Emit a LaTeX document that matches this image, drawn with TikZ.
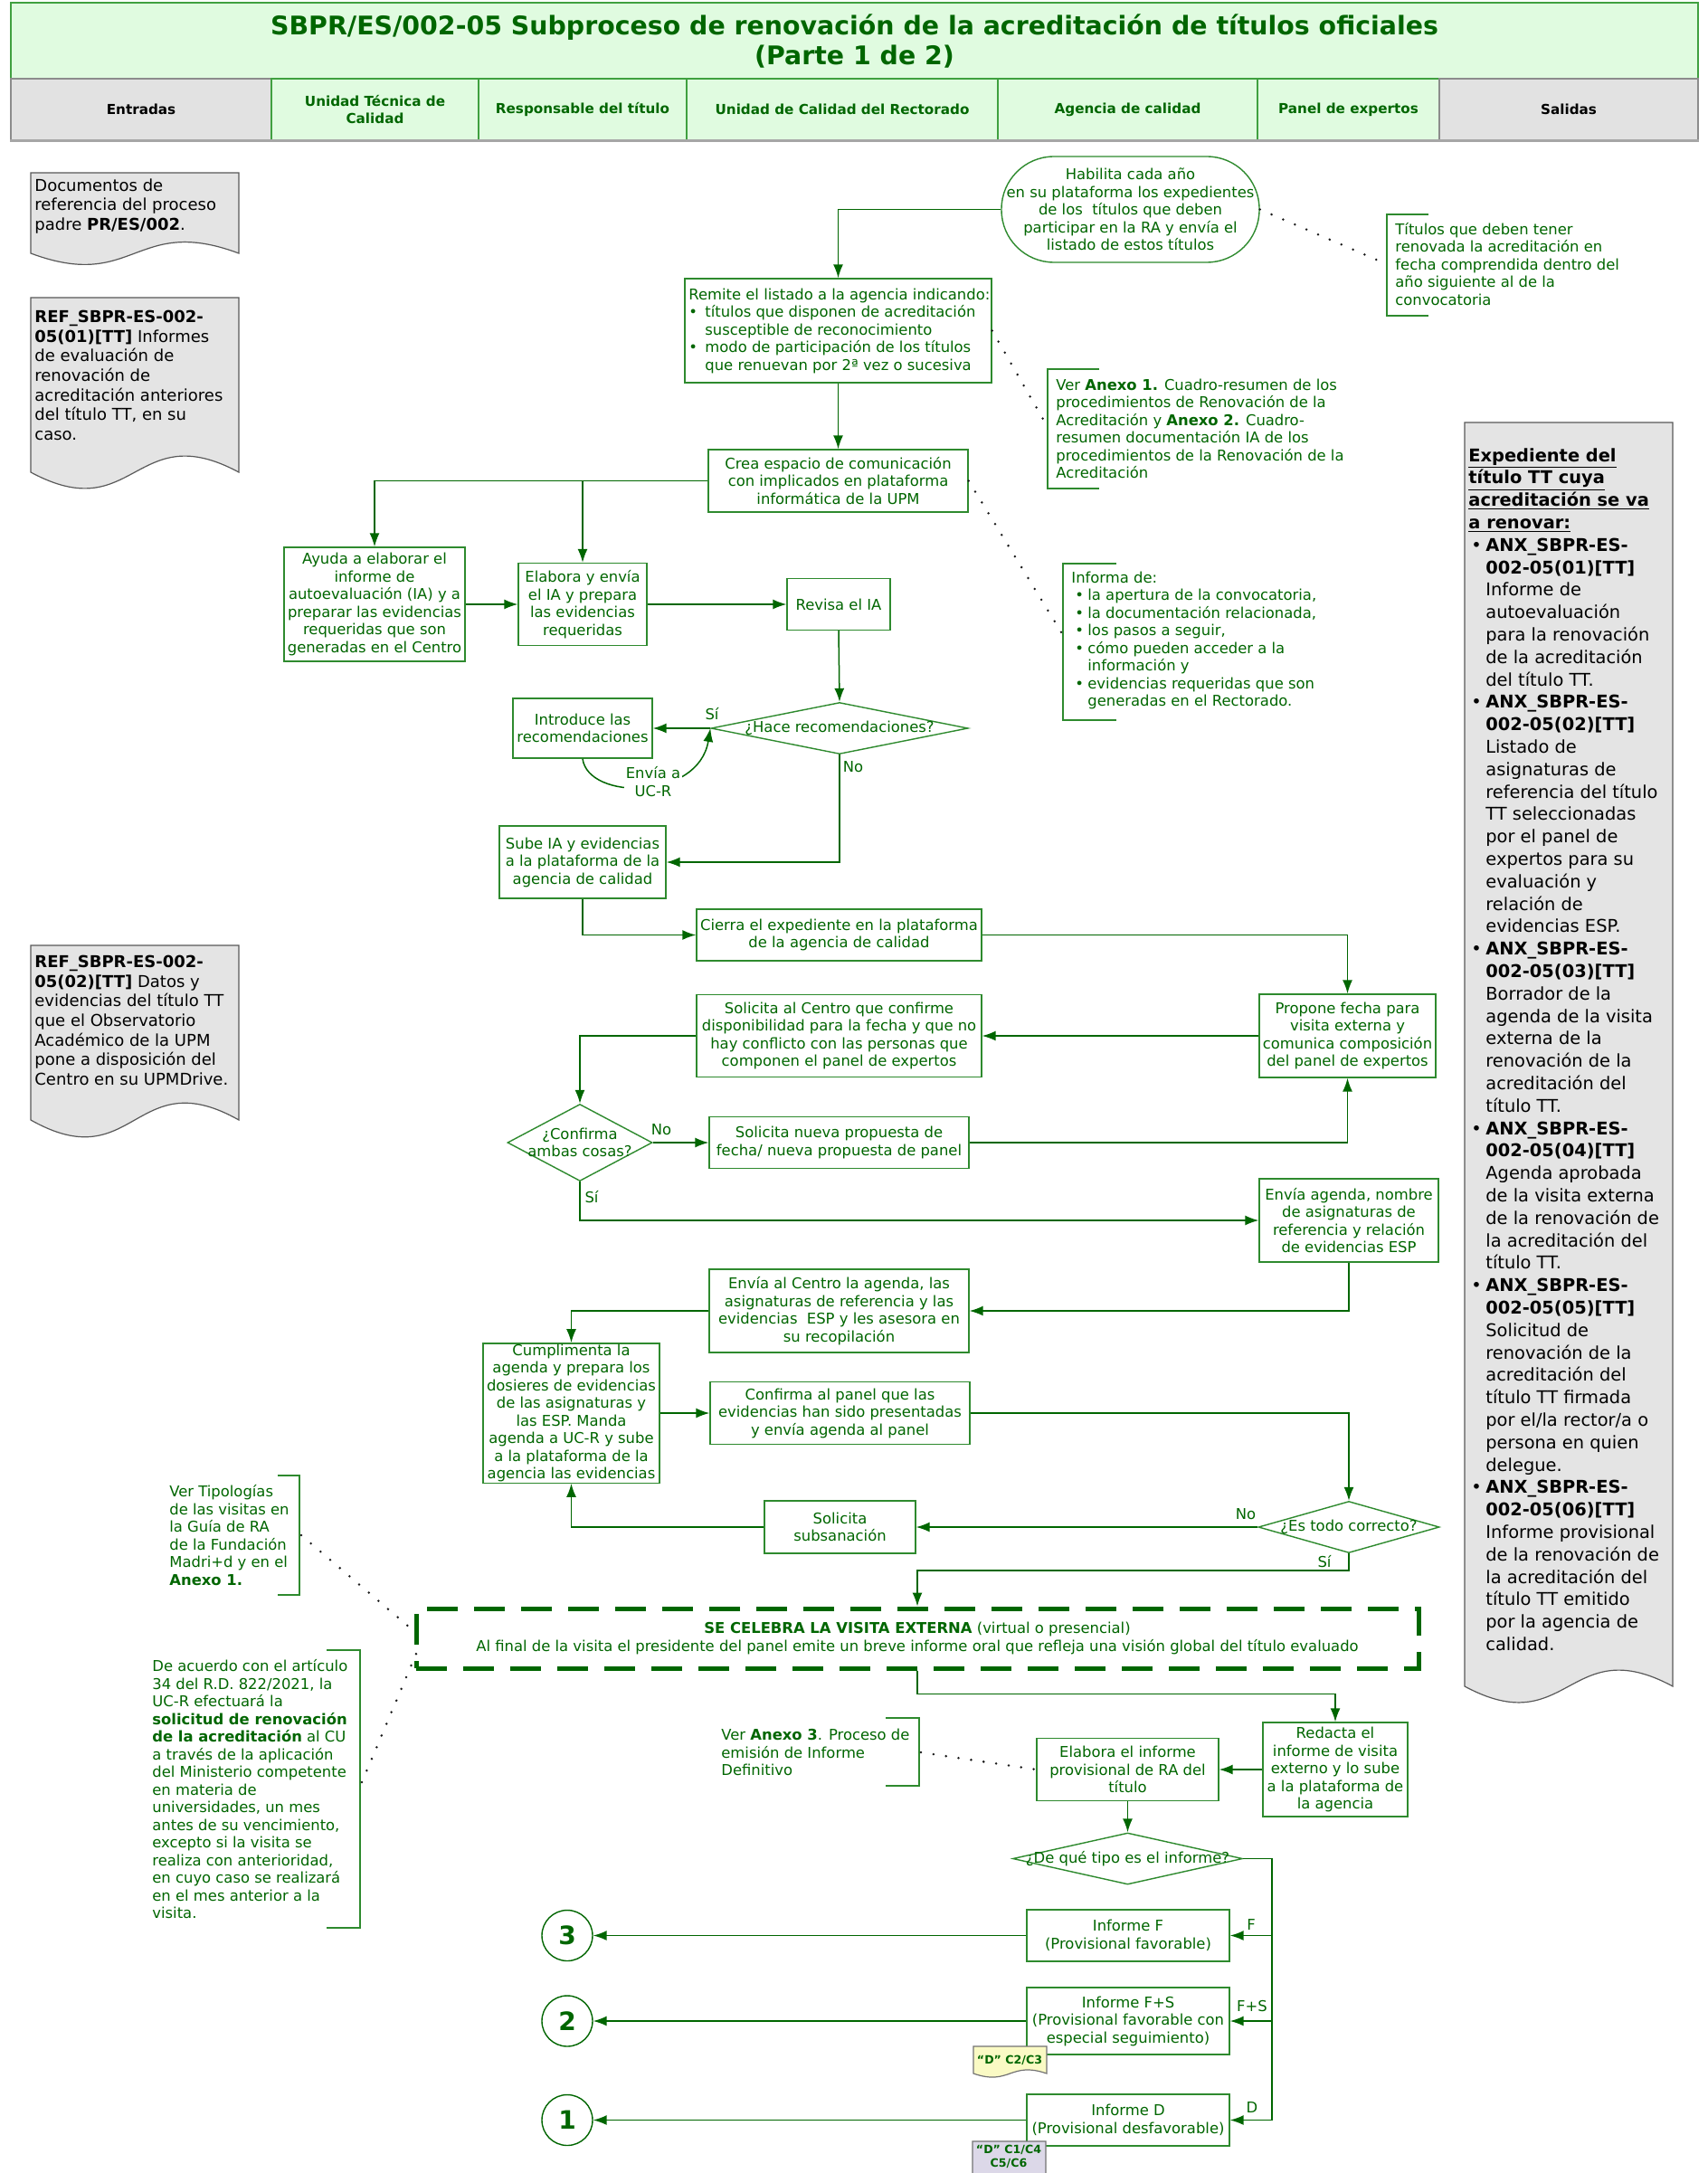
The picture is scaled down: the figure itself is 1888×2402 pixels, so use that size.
\documentclass[tikz,border=0pt]{standalone}
\usepackage{fontspec}
\setmainfont{DejaVu Sans}
\usetikzlibrary{arrows.meta,shapes.geometric,calc}
\definecolor{dgreen}{HTML}{006600}
\definecolor{bgreen}{HTML}{2E8A2E}
\definecolor{tfill}{HTML}{E0FBE0}
\definecolor{tborder}{HTML}{40A040}
\definecolor{hgray}{HTML}{E2E2E2}
\definecolor{docgray}{HTML}{E4E4E4}
\definecolor{tagyel}{HTML}{FAFAC4}
\definecolor{tagpur}{HTML}{DCD8E8}
\newcommand\bfnt{\fontsize{8.2}{9.75}\selectfont}
\newcommand\dfnt{\fontsize{9}{10.8}\selectfont}
\newcommand\sfnt{\fontsize{9.7}{12.4}\selectfont}
\newcommand\tfnt{\fontsize{14.2}{16.5}\selectfont\bfseries}
\newcommand\hfnt{\fontsize{7.6}{9.6}\selectfont\bfseries}
\newcommand\gbul{\makebox[9pt][l]{\textbullet}}
\newcommand\gind{\hspace*{9pt}}
\newcommand\abul{\hspace*{2pt}\makebox[7pt][l]{\textbullet}}
\newcommand\aind{\hspace*{9pt}}
\newcommand\sbul{\hspace*{1.5pt}\makebox[8pt][l]{\textbullet}}
\newcommand\sind{\hspace*{9.5pt}}
\newcommand\docshape[6][]{\draw[doc,#1] (#2,#4) -- (#3,#4) -- (#3,#5) .. controls ({(#2+#3)/2},{#5-#6}) and ({(#2+#3)/2},{#5+#6}) .. (#2,#5) -- cycle;}
\tikzset{
 box/.style={draw=bgreen, line width=0.7pt, fill=white, text=dgreen, font=\bfnt, align=center, inner sep=0.5pt},
 arr/.style={draw=dgreen, line width=0.75pt, -{Latex[length=7.5pt,width=5.5pt]}},
 ln/.style={draw=dgreen, line width=0.75pt},
 dots/.style={draw=black!90, line width=1.4pt, line cap=round, dash pattern=on 0pt off 7pt},
 brk/.style={draw=bgreen, line width=0.7pt},
 ann/.style={text=dgreen, font=\bfnt, align=left, inner sep=0pt, anchor=west},
 dia/.style={diamond, draw=bgreen, line width=0.7pt, fill=white, inner sep=0pt},
 dtext/.style={text=dgreen, font=\bfnt, align=center, inner sep=0pt},
 lbl/.style={text=dgreen, font=\bfnt, inner sep=0pt},
 doc/.style={draw=black!65, line width=0.6pt, fill=docgray},
 dtxt/.style={text=black, font=\dfnt, align=left, inner sep=0pt, anchor=west},
 hcell/.style={draw=tborder, line width=0.6pt, fill=tfill, minimum height=34pt, inner sep=0pt, font=\hfnt, text=dgreen, align=center},
 hgcell/.style={draw=black!45, line width=0.6pt, fill=hgray, minimum height=34pt, inner sep=0pt, font=\hfnt, text=black, align=center},
 conn/.style={circle, draw=dgreen, line width=0.7pt, fill=white, minimum size=28pt, inner sep=0pt, text=dgreen, font=\fontsize{14}{16}\selectfont\bfseries},
 tagtxt/.style={text=dgreen, font=\fontsize{6.3}{7.6}\selectfont\bfseries, align=center, inner sep=0pt}
}
\begin{document}
\begin{tikzpicture}[x=0.5pt,y=-0.5pt]
\useasboundingbox (0,0) rectangle (1888,2402);
\fill[white] (0,0) rectangle (1888,2402);

% ---------- header ----------
\node[draw=tborder, fill=tfill, line width=0.8pt, minimum width=932.5pt, minimum height=42pt, inner sep=0pt] (title) at (944.5,45) {};
\node[text=dgreen, font=\tfnt, align=center, inner sep=0pt] (titletxt) at (944.5,46) {SBPR/ES/002-05 Subproceso de renovación de la acreditación de títulos oficiales\\(Parte 1 de 2)};
\node[hgcell, minimum width=144pt] (hent) at (156,121) {Entradas};
\node[hcell, minimum width=114.5pt] (hutc) at (414.5,121) {Unidad Técnica de\\Calidad};
\node[hcell, minimum width=115pt] (hres) at (644,121) {Responsable del título};
\node[hcell, minimum width=172pt] (hucr) at (931,121) {Unidad de Calidad del Rectorado};
\node[hcell, minimum width=143.5pt] (hage) at (1246.5,121) {Agencia de calidad};
\node[hcell, minimum width=100.5pt] (hpan) at (1490.5,121) {Panel de expertos};
\node[hgcell, minimum width=143pt] (hsal) at (1734,121) {Salidas};
\draw[line width=1.4pt, black!35] (hent.south west) -- (hsal.south east);

% ---------- input / output documents ----------
\docshape{34}{264}{191}{280}{43}
\node[dtxt] (doc1) at (38,228) {Documentos de\\referencia del proceso\\padre \textbf{PR/ES/002}.};
\docshape{34}{264}{329}{522}{62}
\node[dtxt] (doc2) at (38,415) {\textbf{REF\_SBPR-ES-002-}\\\textbf{05(01)[TT]} Informes\\de evaluación de\\renovación de\\acreditación anteriores\\del título TT, en su\\caso.};
\docshape{34}{264}{1045}{1238}{65}
\node[dtxt] (doc3) at (38,1128) {\textbf{REF\_SBPR-ES-002-}\\\textbf{05(02)[TT]} Datos y\\evidencias del título TT\\que el Observatorio\\Académico de la UPM\\pone a disposición del\\Centro en su UPMDrive.};
\docshape{1619}{1849}{467}{1864}{62}
\node[dtxt, font=\sfnt] (saltxt) at (1623,1160) {%
\underline{\textbf{Expediente del}}\\
\underline{\textbf{título TT cuya}}\\
\underline{\textbf{acreditación se va}}\\
\underline{\textbf{a renovar:}}\\
\sbul\textbf{ANX\_SBPR-ES-}\\
\sind\textbf{002-05(01)[TT]}\\
\sind Informe de\\
\sind autoevaluación\\
\sind para la renovación\\
\sind de la acreditación\\
\sind del título TT.\\
\sbul\textbf{ANX\_SBPR-ES-}\\
\sind\textbf{002-05(02)[TT]}\\
\sind Listado de\\
\sind asignaturas de\\
\sind referencia del título\\
\sind TT seleccionadas\\
\sind por el panel de\\
\sind expertos para su\\
\sind evaluación y\\
\sind relación de\\
\sind evidencias ESP.\\
\sbul\textbf{ANX\_SBPR-ES-}\\
\sind\textbf{002-05(03)[TT]}\\
\sind Borrador de la\\
\sind agenda de la visita\\
\sind externa de la\\
\sind renovación de la\\
\sind acreditación del\\
\sind título TT.\\
\sbul\textbf{ANX\_SBPR-ES-}\\
\sind\textbf{002-05(04)[TT]}\\
\sind Agenda aprobada\\
\sind de la visita externa\\
\sind de la renovación de\\
\sind la acreditación del\\
\sind título TT.\\
\sbul\textbf{ANX\_SBPR-ES-}\\
\sind\textbf{002-05(05)[TT]}\\
\sind Solicitud de\\
\sind renovación de la\\
\sind acreditación del\\
\sind título TT firmada\\
\sind por el/la rector/a o\\
\sind persona en quien\\
\sind delegue.\\
\sbul\textbf{ANX\_SBPR-ES-}\\
\sind\textbf{002-05(06)[TT]}\\
\sind Informe provisional\\
\sind de la renovación de\\
\sind la acreditación del\\
\sind título TT emitido\\
\sind por la agencia de\\
\sind calidad.};

% ---------- process boxes ----------
\node[box, minimum width=142.5pt, minimum height=58.5pt, rounded corners=29pt] (hab) at (1249.5,231.5) {Habilita cada año\\en su plataforma los expedientes\\de los\ \ títulos que deben\\participar en la RA y envía el\\listado de estos títulos};
\node[box, minimum width=169.5pt, minimum height=57.5pt] (rem) at (926.5,365.5) {};
\node[ann] (remt) at (761,365.5) {Remite el listado a la agencia indicando:\\\gbul títulos que disponen de acreditación\\\gind susceptible de reconocimiento\\\gbul modo de participación de los títulos\\\gind que renuevan por 2ª vez o sucesiva};
\node[box, minimum width=143.5pt, minimum height=34.5pt] (crea) at (926.5,531.5) {Crea espacio de comunicación\\con implicados en plataforma\\informática de la UPM};
\node[box, minimum width=100pt, minimum height=63pt] (ayuda) at (414,668) {Ayuda a elaborar el\\informe de\\autoevaluación (IA) y a\\preparar las evidencias\\requeridas que son\\generadas en el Centro};
\node[box, minimum width=71pt, minimum height=45.5pt] (elab) at (644,668) {Elabora y envía\\el IA y prepara\\las evidencias\\requeridas};
\node[box, minimum width=57pt, minimum height=28.5pt] (rev) at (927,668) {Revisa el IA};
\node[dia, minimum width=142pt, minimum height=28.5pt] (d1) at (928,805) {};
\node[dtext] (d1t) at (928,805) {¿Hace recomendaciones?};
\node[box, minimum width=77pt, minimum height=33pt] (intro) at (644,805) {Introduce las\\recomendaciones};
\node[box, minimum width=92pt, minimum height=40pt] (sube) at (644,953) {Sube IA y evidencias\\a la plataforma de la\\agencia de calidad};
\node[box, minimum width=157.5pt, minimum height=28.5pt] (cierra) at (927.5,1033.5) {Cierra el expediente en la plataforma\\de la agencia de calidad};
\node[box, minimum width=97.5pt, minimum height=46pt] (prop) at (1489.5,1145) {Propone fecha para\\visita externa y\\comunica composición\\del panel de expertos};
\node[box, minimum width=157.5pt, minimum height=45.5pt] (solc) at (927.5,1145) {Solicita al Centro que confirme\\disponibilidad para la fecha y que no\\hay conflicto con las personas que\\componen el panel de expertos};
\node[dia, minimum width=80pt, minimum height=42.5pt] (d2) at (641,1263) {};
\node[dtext] (d2t) at (641,1263) {¿Confirma\\ambas cosas?};
\node[box, minimum width=143.5pt, minimum height=28.5pt] (solnueva) at (927.5,1263) {Solicita nueva propuesta de\\fecha/ nueva propuesta de panel};
\node[box, minimum width=99pt, minimum height=46pt] (envag) at (1491,1349) {Envía agenda, nombre\\de asignaturas de\\referencia y relación\\de evidencias ESP};
\node[box, minimum width=143.5pt, minimum height=46pt] (envc) at (927.5,1449) {Envía al Centro la agenda, las\\asignaturas de referencia y las\\evidencias\ \ ESP y les asesora en\\su recopilación};
\node[box, minimum width=97.5pt, minimum height=77pt] (cump) at (631.5,1562) {Cumplimenta la\\agenda y prepara los\\dosieres de evidencias\\de las asignaturas y\\las ESP. Manda\\agenda a UC-R y sube\\a la plataforma de la\\agencia las evidencias};
\node[box, minimum width=143.5pt, minimum height=34.5pt] (confp) at (928.5,1562) {Confirma al panel que las\\evidencias han sido presentadas\\y envía agenda al panel};
\node[dia, minimum width=100pt, minimum height=28.5pt] (d3) at (1491,1688) {};
\node[dtext] (d3t) at (1491,1688) {¿Es todo correcto?};
\node[box, minimum width=83.5pt, minimum height=29pt] (subs) at (928.5,1688) {Solicita\\subsanación};
\node[draw=dgreen, line width=2.5pt, dash pattern=on 17pt off 9pt, fill=white, minimum width=554pt, minimum height=33pt, text=dgreen, font=\bfnt, align=center, inner sep=0pt] (visita) at (1014,1811) {\textbf{SE CELEBRA LA VISITA EXTERNA} (virtual o presencial)\\Al final de la visita el presidente del panel emite un breve informe oral que refleja una visión global del título evaluado};
\node[box, minimum width=80pt, minimum height=52pt] (redacta) at (1476,1956) {Redacta el\\informe de visita\\externo y lo sube\\a la plataforma de\\la agencia};
\node[box, minimum width=100.5pt, minimum height=34.5pt] (elabinf) at (1246.5,1956) {Elabora el informe\\provisional de RA del\\título};
\node[dia, minimum width=127pt, minimum height=28.5pt] (d4) at (1246.5,2054.5) {};
\node[dtext] (d4t) at (1246.5,2054.5) {¿De qué tipo es el informe?};
\node[box, minimum width=112pt, minimum height=28.5pt] (infF) at (1247,2139.5) {Informe F\\(Provisional favorable)};
\node[box, minimum width=112pt, minimum height=37pt] (infFS) at (1247,2234) {Informe F+S\\(Provisional favorable con\\especial seguimiento)};
\node[box, minimum width=112pt, minimum height=28.5pt] (infD) at (1247,2343.5) {Informe D\\(Provisional desfavorable)};
\node[conn] (c3) at (627,2139.5) {3};
\node[conn] (c2) at (627,2234) {2};
\node[conn] (c1) at (627,2343.5) {1};

% tags
\docshape[fill=tagyel, draw=black!55]{1076}{1157}{2262}{2292}{14}
\node[tagtxt] (tag1) at (1116,2277) {“D” C2/C3};
\docshape[fill=tagpur, draw=black!55]{1075}{1156}{2367}{2412}{14}
\node[tagtxt] (tag2) at (1115,2384) {“D” C1/C4\\C5/C6};

% ---------- connectors ----------
\draw[arr] (hab.west) -| (rem.north);
\draw[arr] (rem.south) -- (crea.north);
\draw[arr] (crea.west) -| (ayuda.north);
\coordinate (br1) at (644,531.5);
\draw[arr] (br1) -- (elab.north);
\draw[arr] (ayuda.east) -- (elab.west);
\draw[arr] (elab.east) -- (rev.west);
\draw[arr] (rev.south) -- (d1.north);
\draw[arr] (d1.west) -- (intro.east);
\node[lbl] (si1) at (787,789) {Sí};
\draw[arr] (intro.south) .. controls (650,885) and (772,885) .. (d1.west);
\node[lbl, fill=white, align=center, inner sep=1pt] (envlbl) at (722,864) {Envía a\\UC-R};
\draw[arr] (d1.south) |- (sube.east);
\node[lbl] (no1) at (943,848) {No};
\draw[arr] (sube.south) |- (cierra.west);
\draw[arr] (cierra.east) -| (prop.north);
\draw[arr] (prop.west) -- (solc.east);
\draw[arr] (solc.west) -| (d2.north);
\draw[arr] (d2.east) -- (solnueva.west);
\node[lbl] (no2) at (731,1249) {No};
\draw[arr] (solnueva.east) -| (prop.south);
\draw[arr] (d2.south) |- (envag.west);
\node[lbl] (si2) at (654,1323) {Sí};
\draw[arr] (envag.south) |- (envc.east);
\draw[arr] (envc.west) -| (cump.north);
\draw[arr] (cump.east) -- (confp.west);
\draw[arr] (confp.east) -| (d3.north);
\draw[arr] (d3.west) -- (subs.east);
\node[lbl] (no3) at (1377,1674) {No};
\draw[arr] (subs.west) -| (cump.south);
\draw[arr] (d3.south) -- ++(0,19) -| (visita.north);
\node[lbl] (si3) at (1464,1726) {Sí};
\draw[arr] (visita.south) -- ++(0,26) -| (redacta.north);
\draw[arr] (redacta.west) -- (elabinf.east);
\draw[arr] (elabinf.south) -- (d4.north);
\coordinate (v0) at (1406,2054.5);
\coordinate (vF) at (1406,2139.5);
\coordinate (vFS) at (1406,2234);
\coordinate (vD) at (1406,2343.5);
\draw[ln] (d4.east) -- (v0) -- (vD);
\draw[arr] (vF) -- (infF.east);
\draw[arr] (vFS) -- (infFS.east);
\draw[arr] (vD) -- (infD.east);
\node[lbl] (lF) at (1383,2127) {F};
\node[lbl] (lFS) at (1384,2218) {F+S};
\node[lbl] (lD) at (1384,2329) {D};
\draw[arr] (infF.west) -- (c3.east);
\draw[arr] (infFS.west) -- (c2.east);
\draw[arr] (infD.west) -- (c1.east);

% ---------- annotations ----------
\draw[brk] (1579,237) -- (1533,237) -- (1533,349) -- (1579,349);
\node[ann] (a1) at (1542,292) {Títulos que deben tener\\renovada la acreditación en\\fecha comprendida dentro del\\año siguiente al de la\\convocatoria};
\coordinate (a1p) at (1533,292);
\draw[dots] (hab.east) -- (a1p);

\draw[brk] (1215,408) -- (1158,408) -- (1158,540) -- (1215,540);
\node[ann] (a2) at (1167,474) {Ver \textbf{Anexo 1.} Cuadro-resumen de los\\procedimientos de Renovación de la\\Acreditación y \textbf{Anexo 2.} Cuadro-\\resumen documentación IA de los\\procedimientos de la Renovación de la\\Acreditación};
\coordinate (a2p) at (1158,472);
\draw[dots] (rem.east) -- (a2p);

\draw[brk] (1234,623) -- (1175,623) -- (1175,796) -- (1234,796);
\node[ann] (a3) at (1184,708) {Informa de:\\\abul la apertura de la convocatoria,\\\abul la documentación relacionada,\\\abul los pasos a seguir,\\\abul cómo pueden acceder a la\\\aind información y\\\abul evidencias requeridas que son\\\aind generadas en el Rectorado.};
\coordinate (a3p) at (1175,702);
\draw[dots] (crea.east) -- (a3p);

\draw[brk] (307,1631) -- (331,1631) -- (331,1763) -- (307,1763);
\node[ann] (a4) at (187,1697) {Ver Tipologías\\de las visitas en\\la Guía de RA\\de la Fundación\\Madri+d y en el\\\textbf{Anexo 1.}};
\coordinate (a4p) at (333,1697);
\coordinate (a4q) at (460,1805);
\draw[dots] (a4p) -- (a4q);

\draw[brk] (361,1824) -- (398,1824) -- (398,2131) -- (361,2131);
\node[ann] (a5) at (168,1978) {De acuerdo con el artículo\\34 del R.D. 822/2021, la\\UC-R efectuará la\\\textbf{solicitud de renovación}\\\textbf{de la acreditación} al CU\\a través de la aplicación\\del Ministerio competente\\en materia de\\universidades, un mes\\antes de su vencimiento,\\excepto si la visita se\\realiza con anterioridad,\\en cuyo caso se realizará\\en el mes anterior a la\\visita.};
\coordinate (a5p) at (400,1970);
\coordinate (a5q) at (460,1828);
\draw[dots] (a5p) -- (a5q);

\draw[brk] (979,1899) -- (1016,1899) -- (1016,1974) -- (979,1974);
\node[ann] (a6) at (797,1937) {Ver \textbf{Anexo 3}. Proceso de\\emisión de Informe\\Definitivo};
\coordinate (a6p) at (1018,1937);
\draw[dots] (a6p) -- (elabinf.west);
\end{tikzpicture}
\end{document}
